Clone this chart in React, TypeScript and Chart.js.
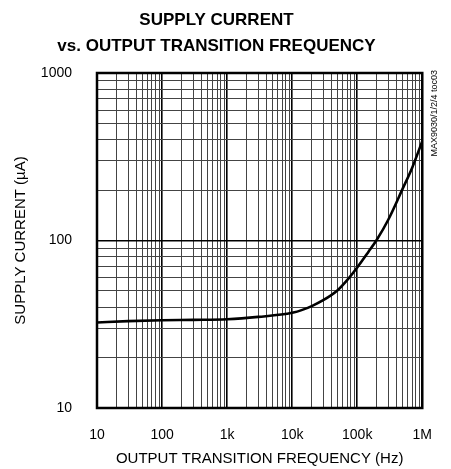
import React, { useEffect, useRef } from 'react';
import { Chart, registerables } from 'chart.js';

Chart.register(...registerables);

// ---- data ----
const frequencyHz = [10, 30, 100, 300, 1000, 3000, 10000, 15000, 20000, 30000, 50000, 70000, 100000, 150000, 200000, 300000, 500000, 700000, 1000000];
const supplyCurrentUA = [32.4, 33.0, 33.4, 33.6, 33.9, 35.0, 37.0, 38.8, 40.6, 44.0, 50.5, 58, 69, 86, 101, 133, 204, 272, 392];

const xDecades = [10, 100, 1000, 10000, 100000, 1000000];
const xTickLabels = ['10', '100', '1k', '10k', '100k', '1M'];
const yDecades = [10, 100, 1000];
const yTickLabels = ['10', '100', '1000'];

const FONT = '"Liberation Sans", Arial, sans-serif';

function gridValues(decades: number[]): number[] {
  const out: number[] = [];
  for (let i = 0; i < decades.length - 1; i++) {
    for (let m = 1; m <= 9; m++) out.push(decades[i] * m);
  }
  out.push(decades[decades.length - 1]);
  return out;
}

function isDecade(v: number): boolean {
  const l = Math.log10(v);
  return Math.abs(l - Math.round(l)) < 1e-6;
}

const framePlugin = {
  id: 'frame',
  beforeDatasetsDraw(chart: any) {
    const { ctx, chartArea } = chart;
    ctx.save();
    ctx.strokeStyle = '#000';
    ctx.lineWidth = 2.5;
    ctx.strokeRect(chartArea.left, chartArea.top, chartArea.right - chartArea.left, chartArea.bottom - chartArea.top);
    ctx.restore();
  },
  afterDraw(chart: any) {
    const { ctx, chartArea } = chart;
    ctx.save();
    ctx.translate(chartArea.right + 12.5, chartArea.top - 3);
    ctx.rotate(-Math.PI / 2);
    ctx.textAlign = 'right';
    ctx.textBaseline = 'middle';
    ctx.fillStyle = '#000';
    ctx.font = `9px ${FONT}`;
    ctx.fillText('MAX9030/1/2/4 toc03', 0, 0);
    ctx.restore();
  },
};

export default function App() {
  const canvasRef = useRef<HTMLCanvasElement | null>(null);

  useEffect(() => {
    if (!canvasRef.current) return;
    const xGrid = gridValues(xDecades);
    const yGrid = gridValues(yDecades);
    const chart = new Chart(canvasRef.current, {
      type: 'line',
      data: {
        datasets: [
          {
            data: frequencyHz.map((f, i) => ({ x: f, y: supplyCurrentUA[i] })),
            borderColor: '#000',
            borderWidth: 2.6,
            pointRadius: 0,
            fill: false,
            cubicInterpolationMode: 'monotone',
          },
        ],
      },
      options: {
        animation: false,
        responsive: true,
        maintainAspectRatio: false,
        layout: { padding: { left: 0, right: 18, top: 0, bottom: 0 } },
        plugins: {
          legend: { display: false },
          tooltip: { enabled: false },
          title: {
            display: true,
            text: ['SUPPLY CURRENT', 'vs. OUTPUT TRANSITION FREQUENCY'],
            color: '#000',
            font: { family: FONT, size: 17, weight: 'bold', lineHeight: 26 / 17 },
            padding: { top: 7, bottom: 14 },
          },
        },
        scales: {
          x: {
            type: 'logarithmic',
            min: xDecades[0],
            max: xDecades[xDecades.length - 1],
            afterBuildTicks: (s: any) => {
              s.ticks = xGrid.map((v) => ({ value: v }));
            },
            afterFit: (s: any) => {
              s.height = 61;
            },
            border: { display: false },
            grid: {
              drawTicks: false,
              color: (c: any) => (isDecade(c.tick.value) ? '#000' : '#444'),
              lineWidth: (c: any) => (isDecade(c.tick.value) ? 1.6 : 1),
            },
            ticks: {
              autoSkip: false,
              maxRotation: 0,
              padding: 19,
              color: '#000',
              font: { family: FONT, size: 14 },
              callback: (v: any) => {
                const i = xDecades.indexOf(Number(v));
                return i >= 0 ? xTickLabels[i] : '';
              },
            },
            title: {
              display: true,
              text: 'OUTPUT TRANSITION FREQUENCY (Hz)',
              color: '#000',
              font: { family: FONT, size: 15 },
              padding: { top: 0, bottom: 1 },
            },
          },
          y: {
            type: 'logarithmic',
            min: yDecades[0],
            max: yDecades[yDecades.length - 1],
            afterBuildTicks: (s: any) => {
              s.ticks = yGrid.map((v) => ({ value: v }));
            },
            afterFit: (s: any) => {
              s.width = 97;
            },
            border: { display: false },
            grid: {
              drawTicks: false,
              color: (c: any) => (isDecade(c.tick.value) ? '#000' : '#444'),
              lineWidth: (c: any) => (isDecade(c.tick.value) ? 1.6 : 1),
            },
            ticks: {
              autoSkip: false,
              padding: 25,
              color: '#000',
              font: { family: FONT, size: 14 },
              callback: (v: any) => {
                const i = yDecades.indexOf(Number(v));
                return i >= 0 ? yTickLabels[i] : '';
              },
            },
            title: {
              display: true,
              text: 'SUPPLY CURRENT (µA)',
              color: '#000',
              font: { family: FONT, size: 15 },
              padding: { top: 12, bottom: 0 },
            },
          },
        },
      },
      plugins: [framePlugin],
    } as any);
    return () => chart.destroy();
  }, []);

  return (
    <div style={{ position: 'fixed', left: 0, top: 0, width: 451, height: 469, background: '#fff' }}>
      <canvas ref={canvasRef} />
    </div>
  );
}
